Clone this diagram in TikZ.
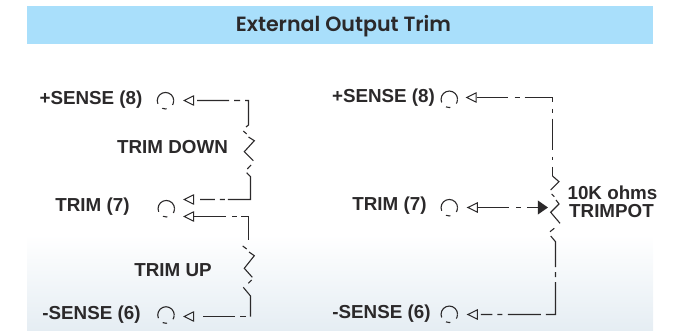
\documentclass[tikz,border=0pt]{standalone}
\usepackage{fontspec}
\setmainfont{Liberation Sans}
\newfontfamily\titlefont{Poppins SemiBold}
\usetikzlibrary{shapes.geometric}
\definecolor{ink}{HTML}{2B292A}
\definecolor{banner}{HTML}{A9DFFB}
\definecolor{fade}{HTML}{E5EDF3}
\tikzset{
  wire/.style={draw=ink,line width=1.1pt},
  lbl/.style={font=\fontsize{18.8}{20}\selectfont\bfseries,text=ink,inner sep=0pt},
  term/.style={circle,draw=ink,line width=1.1pt,minimum size=16.5pt,inner sep=0pt,dash pattern=on 29pt off 6.3pt on 4.4pt off 7.3pt on 4pt},
  tri/.style={isosceles triangle,isosceles triangle apex angle=52,shape border rotate=180,draw=ink,line width=1pt,inner sep=0pt,minimum height=9.5pt,anchor=apex},
}
\begin{document}
\begin{tikzpicture}[x=1pt,y=-1pt]
\useasboundingbox (0,0) rectangle (677,331);
\shade[top color=white,bottom color=fade,draw=none] (27,235) rectangle (653,331);
\fill[banner] (27,6) rectangle (653,44);
\node[font=\titlefont\fontsize{20.6}{22}\selectfont,text=ink,inner sep=0pt] (title) at (343.5,26.5) {External Output Trim};
% left labels
\node[lbl] (la) at (91,100) {+SENSE (8)};
\node[lbl] (lb) at (172.5,147.5) {TRIM DOWN};
\node[lbl] (lc) at (92.5,207) {TRIM (7)};
\node[lbl] (ld) at (173,270.5) {TRIM UP};
\node[lbl] (le) at (91.5,315) {-SENSE (6)};
% right labels
\node[lbl] (ra) at (383.5,98) {+SENSE (8)};
\node[lbl] (rc) at (389.5,206) {TRIM (7)};
\node[lbl] (re) at (381.5,314) {-SENSE (6)};
\node[lbl] (rf) at (612.5,193) {10K ohms};
\node[lbl] (rg) at (611.5,211) {TRIMPOT};
% terminals
\node[term] (c1) at (165.5,100.7) {};
\node[term] (c2) at (166.3,208.7) {};
\node[term] (c3) at (166,315) {};
\node[term] (c4) at (449.3,99.3) {};
\node[term] (c5) at (449.3,207.7) {};
\node[term] (c6) at (449.3,314.3) {};
% arrow triangles
\node[tri] (t1) at (183,100.5) {};
\node[tri] (t2) at (183,199.5) {};
\node[tri] (t3) at (183,216.5) {};
\node[tri] (t4) at (183,316.5) {};
\node[tri] (t5) at (465.5,97.5) {};
\node[tri] (t6) at (466.7,207.5) {};
\node[tri] (t7) at (466.7,314.5) {};
% left top wire and resistor
\coordinate (a1) at (248.5,100.5);
\coordinate (a2) at (248.5,125);
\coordinate (a3) at (250.5,199.5);
\coordinate (a4) at (250.5,176.7);
\draw[wire,dash pattern=on 32pt off 5pt on 6pt off 5pt on 60pt] ([xshift=3pt]t1.lower side) -- (a1) -- (a2) -- (246,127);
\draw[wire] (243.3,131) -- (246.7,134);
\draw[wire] (248.5,137) -- (254.3,140.7) -- (244.3,151.7) -- (253.3,160.7);
\draw[wire] (251,165) -- (247.3,169);
\draw[wire,dash pattern=on 51pt off 3pt on 5pt off 5pt on 40pt] (246.7,172.7) -- (a4) -- (a3) -- ([xshift=6pt]t2.lower side);
% left bottom wire and resistor
\coordinate (b1) at (248.5,216.5);
\coordinate (b2) at (248.5,240);
\coordinate (b3) at (250.5,296);
\coordinate (b4) at (250.5,316.5);
\draw[wire,dash pattern=on 32pt off 6pt on 5pt off 4pt on 40pt] (t3.lower side) -- (b1) -- (b2);
\draw[wire] (242.7,246) -- (246.7,249);
\draw[wire] (249,252) -- (254.3,255.7) -- (244.3,268.3) -- (252.3,277.3);
\draw[wire] (251.7,280) -- (248.3,283.3);
\draw[wire] (243.3,287.3) -- (b3) -- (b4);
\draw[wire,dash pattern=on 6pt off 5pt on 32pt off 6pt on 4pt] (246,316.5) -- ([xshift=4pt]t4.lower side);
% right top wire
\coordinate (d1) at (552.5,97.5);
\coordinate (d2) at (552.5,176);
\draw[wire,dash pattern=on 31.7pt off 6.3pt on 5pt off 5pt on 32.7pt off 6.5pt on 4pt off 5.7pt on 31.3pt off 7pt on 3pt off 7pt on 40pt] (t5.lower side) -- (d1) -- (d2);
% trimpot
\draw[wire] (d2) -- (559,181.7) -- (550.7,190);
\draw[wire] (551.7,194) -- (554.3,196.7);
\draw[wire] (556,200) -- (559,204) -- (550.7,212.3) -- (560,223.3);
\draw[wire] (554.3,228.3) -- (550,231.7);
% right bottom wire
\coordinate (d3) at (555.5,241.7);
\coordinate (d4) at (555.5,314.5);
\draw[wire,dash pattern=on 33pt off 5pt on 5pt off 5pt on 33pt off 0pt on 9pt off 5pt on 33pt off 5.5pt on 5pt off 5pt on 20pt] (550.7,236) -- (d3) -- (d4) -- ([xshift=3pt]t7.lower side);
% trim wiper
\node[isosceles triangle,isosceles triangle apex angle=70,fill=ink,inner sep=0pt,minimum height=10pt,anchor=apex] (w) at (548.3,207.5) {};
\draw[wire,dash pattern=on 31.3pt off 7pt on 5pt off 5.7pt on 20pt] (t6.lower side) -- (w.lower side);
\end{tikzpicture}
\end{document}
